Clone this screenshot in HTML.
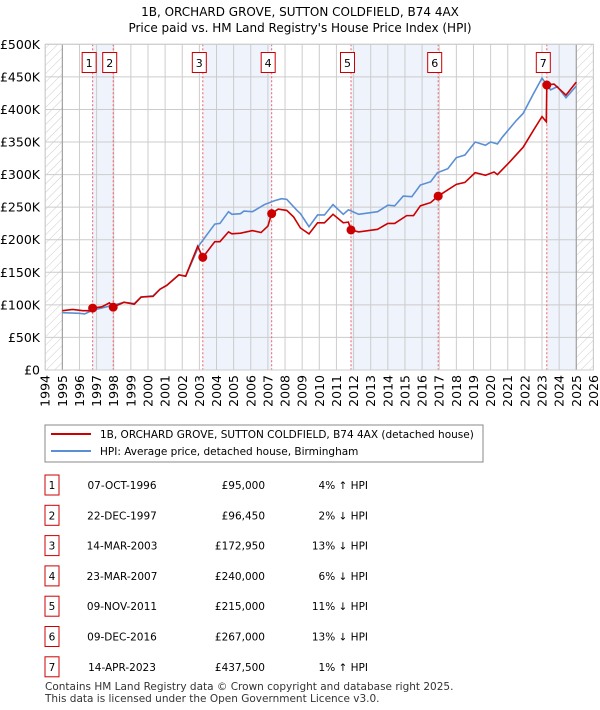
<!DOCTYPE html>
<html><head><meta charset="utf-8"><style>
body{margin:0;background:#fff;width:600px;height:710px;overflow:hidden;font-family:"DejaVu Sans","Liberation Sans",sans-serif;}
svg{position:absolute;left:0;top:0}
</style></head><body>
<svg id="c" width="600" height="710" xmlns="http://www.w3.org/2000/svg">
<defs><pattern id="hatch" width="6" height="6" patternUnits="userSpaceOnUse" patternTransform="rotate(45)"><line x1="0" y1="0" x2="0" y2="6" stroke="#ccc" stroke-width="1"/></pattern></defs>
<text x="300" y="16" text-anchor="middle" font-size="12">1B, ORCHARD GROVE, SUTTON COLDFIELD, B74 4AX</text>
<text x="300" y="32" text-anchor="middle" font-size="12">Price paid vs. HM Land Registry's House Price Index (HPI)</text>
<g id="plot"></g>
<g>
<rect x="45" y="425" width="438" height="37" fill="#fff" stroke="#888"/>
<line x1="51" y1="434" x2="91" y2="434" stroke="#cc0000" stroke-width="2"/>
<text x="100" y="438" font-size="10.5">1B, ORCHARD GROVE, SUTTON COLDFIELD, B74 4AX (detached house)</text>
<line x1="51" y1="451" x2="91" y2="451" stroke="#5b8fd4" stroke-width="2"/>
<text x="100" y="455" font-size="10.5">HPI: Average price, detached house, Birmingham</text>
</g>
<g id="table" font-size="10.5"></g>
<text x="45" y="690" font-size="10.5" fill="#333">Contains HM Land Registry data © Crown copyright and database right 2025.</text>
<text x="45" y="702" font-size="10.5" fill="#333">This data is licensed under the Open Government Licence v3.0.</text>
</svg>
<script>
const yTicks=[0,50,100,150,200,250,300,350,400,450,500];
const yTickLabels=["£0","£50K","£100K","£150K","£200K","£250K","£300K","£350K","£400K","£450K","£500K"];
const years=[1994,1995,1996,1997,1998,1999,2000,2001,2002,2003,2004,2005,2006,2007,2008,2009,2010,2011,2012,2013,2014,2015,2016,2017,2018,2019,2020,2021,2022,2023,2024,2025,2026];
const hpiT=[1995.0,1996.0,1996.3,1996.8,1997.9,1998.6,1999.2,1999.6,2000.3,2000.7,2001.1,2001.8,2002.2,2003.0,2003.9,2004.2,2004.7,2004.9,2005.4,2005.6,2006.1,2006.8,2007.4,2007.8,2008.1,2008.7,2008.9,2009.4,2009.9,2010.3,2010.8,2011.4,2011.7,2012.3,2013.4,2014.0,2014.4,2014.9,2015.4,2015.9,2016.5,2016.9,2017.5,2018.0,2018.5,2019.1,2019.7,2020.0,2020.4,2020.7,2021.5,2021.9,2022.5,2023.0,2023.5,2023.9,2024.4,2025.0];
const hpiV=[88,87,86,92,99,104,102,112,114,124,130,146,144,192,224,225,243,239,240,244,243,254,260,263,262,245,240,220,238,238,254,239,246,239,243,253,252,267,266,284,289,303,309,326,330,350,345,350,347,358,383,394,424,448,430,435,418,436];
const priceT=[1995.0,1995.6,1996.2,1996.6,1996.77,1997.3,1997.75,1997.97,1998.6,1999.2,1999.6,2000.3,2000.7,2001.1,2001.8,2002.2,2002.9,2003.2,2003.9,2004.2,2004.7,2004.9,2005.4,2006.1,2006.6,2007.0,2007.22,2007.6,2008.1,2008.5,2008.9,2009.4,2009.9,2010.3,2010.8,2011.4,2011.7,2011.85,2012.3,2013.4,2014.0,2014.4,2015.1,2015.5,2015.9,2016.5,2016.94,2018.0,2018.5,2019.1,2019.7,2020.2,2020.4,2021.1,2021.9,2022.5,2023.0,2023.25,2023.28,2023.7,2024.4,2025.0];
const priceV=[91,93,91,91,95,97,103,96.45,104,101,112,113,124,130,146,144,190,172.95,197,197,212,209,210,214,211,221,240,247,245,235,218,209,226,226,239,226,227,215,212,216,225,225,237,237,252,257,267,285,288,303,299,304,300,319,342,368,389,381,437.5,439,422,442];
const saleT=[1996.77,1997.97,2003.2,2007.22,2011.85,2016.94,2023.28];
const saleV=[95,96.45,172.95,240,215,267,437.5];
const saleDates=["07-OCT-1996","22-DEC-1997","14-MAR-2003","23-MAR-2007","09-NOV-2011","09-DEC-2016","14-APR-2023"];
const salePrices=["£95,000","£96,450","£172,950","£240,000","£215,000","£267,000","£437,500"];
const saleHpi=["4% ↑ HPI","2% ↓ HPI","13% ↓ HPI","6% ↓ HPI","11% ↓ HPI","13% ↓ HPI","1% ↑ HPI"];

const NS="http://www.w3.org/2000/svg";
const L=45.2,R=593.4,T=44.3,B=370;
const x=t=>L+(t-1994)*(R-L)/32;
const y=v=>B-v*(B-T)/500;
function mk(tag,attrs,parent){const e=document.createElementNS(NS,tag);for(const k in attrs)e.setAttribute(k,attrs[k]);parent.appendChild(e);return e;}
const g=document.getElementById('plot');
// shaded bands
const bands=[[0,1],[2,3],[4,5]];
bands.forEach((b,i)=>{const r=mk('rect',{x:x(saleT[b[0]]),y:T,width:x(saleT[b[1]])-x(saleT[b[0]]),height:B-T,fill:'#eef3fc'},g);

});
const lb=mk('rect',{x:x(saleT[6]),y:T,width:x(2025)-x(saleT[6]),height:B-T,fill:'#eef3fc'},g);


// hatch
const h1=mk('rect',{x:L,y:T,width:x(1995)-L,height:B-T,fill:'url(#hatch)'},g);


const h2=mk('rect',{x:x(2025),y:T,width:R-x(2025),height:B-T,fill:'url(#hatch)'},g);


// grid
yTicks.forEach((v,i)=>{const l=mk('line',{x1:L,x2:R,y1:y(v),y2:y(v),stroke:'#ccc'},g);


const t=mk('text',{x:40,y:y(v)+4.5,'text-anchor':'end','font-size':12.5},g);t.textContent=yTickLabels[i];

});
years.forEach(yr=>{const l=mk('line',{x1:x(yr),x2:x(yr),y1:T,y2:B,stroke:'#ccc'},g);


const t=mk('text',{x:0,y:0,'text-anchor':'end','font-size':12.5,transform:`translate(${x(yr)+4.5},375) rotate(-90)`},g);t.textContent=yr;

});
const ax=mk('line',{x1:x(1995),x2:x(1995),y1:T,y2:B,stroke:'#999'},g);


const ax2=mk('line',{x1:x(2025),x2:x(2025),y1:T,y2:B,stroke:'#999'},g);


// sale lines and labels
saleT.forEach((t,i)=>{const l=mk('line',{x1:x(t),x2:x(t),y1:T,y2:B,stroke:'#f06060','stroke-dasharray':'2,2'},g);


const bx=mk('rect',{x:x(t)-10.5,y:52.5,width:14,height:20,fill:'#fff',stroke:'#cc0000'},g);


const tx=mk('text',{x:x(t)-3.5,y:67,'text-anchor':'middle','font-size':11},g);tx.textContent=i+1;

});
// lines
const hp=mk('polyline',{points:hpiT.map((t,i)=>x(t)+','+y(hpiV[i])).join(' '),fill:'none',stroke:'#5b8fd4','stroke-width':1.6},g);


const pp=mk('polyline',{points:priceT.map((t,i)=>x(t)+','+y(priceV[i])).join(' '),fill:'none',stroke:'#cc0000','stroke-width':1.6},g);


saleT.forEach((t,i)=>{const c=mk('circle',{cx:x(t),cy:y(saleV[i]),r:4.5,fill:'#cc0000'},g);

});
const fr=mk('rect',{x:L,y:T,width:R-L,height:B-T,fill:'none',stroke:'#ccc'},g);


// table
const tb=document.getElementById('table');
saleT.forEach((t,i)=>{const cy=485+i*30.3;
const row=mk('g',{},tb);


mk('rect',{x:45,y:cy-10,width:14,height:20,fill:'#fff',stroke:'#cc0000'},row);
const a=mk('text',{x:52,y:cy+4,'text-anchor':'middle'},row);a.textContent=i+1;
const d=mk('text',{x:122,y:cy+4,'text-anchor':'middle'},row);d.textContent=saleDates[i];
const p=mk('text',{x:265,y:cy+4,'text-anchor':'end'},row);p.textContent=salePrices[i];
const hh=mk('text',{x:368,y:cy+4,'text-anchor':'end'},row);hh.textContent=saleHpi[i];});
</script>
</body></html>
